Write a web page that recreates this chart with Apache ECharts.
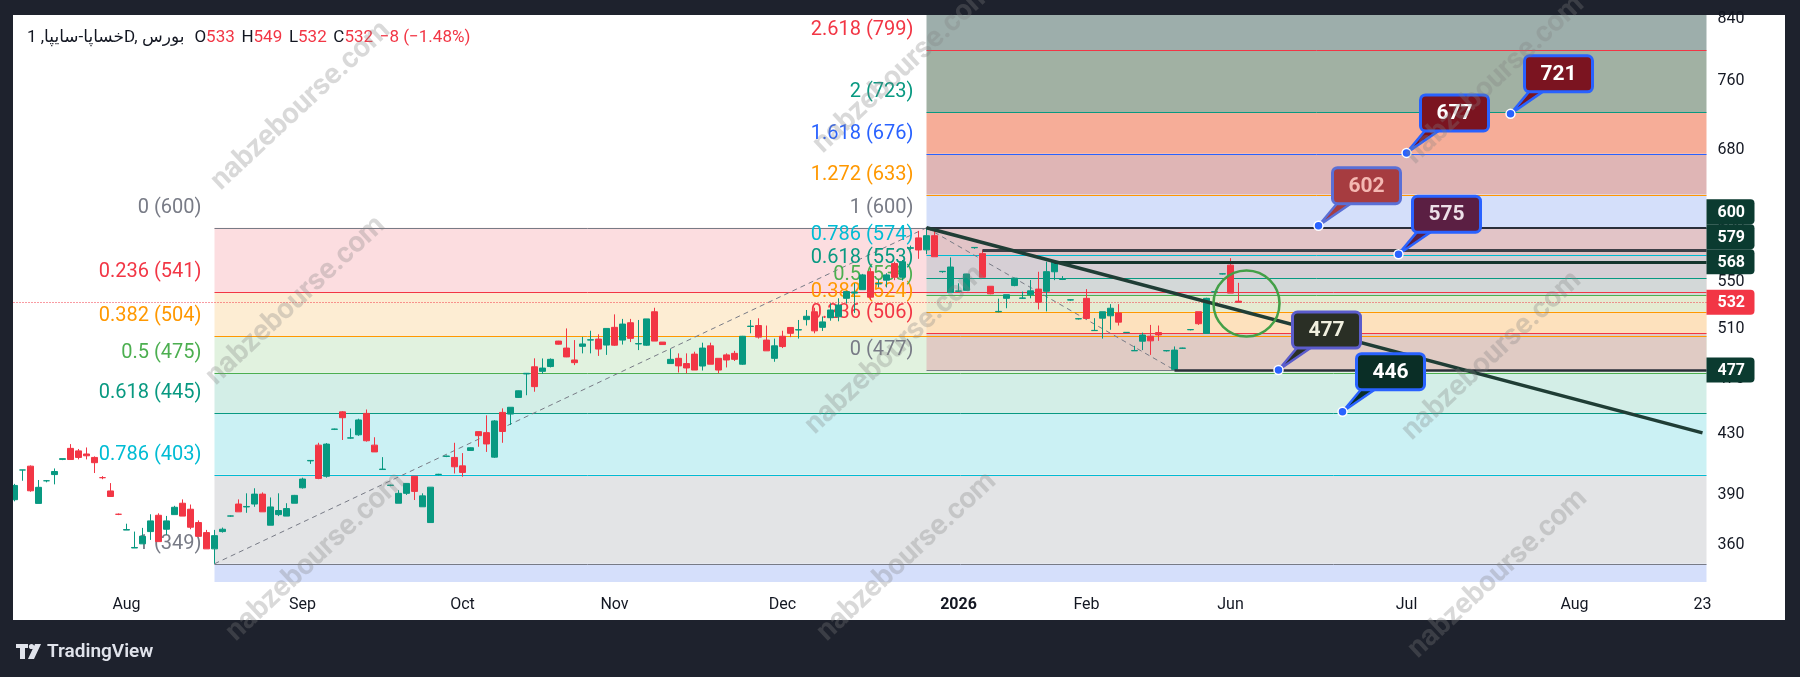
<!DOCTYPE html>
<html>
<head>
<meta charset="utf-8">
<script src="https://cdn.jsdelivr.net/npm/echarts@6/dist/echarts.min.js"></script>
<style>
  html, body { margin: 0; padding: 0; background: #1e222d; }
  #chart { width: 1800px; height: 677px; }
</style>
</head>
<body>
<div id="chart"></div>
<script>
// ---- data ----
const tickerTitle = 'خساپا-سایپا, 1D, بورس';
const barCount = 212;
const axisMonths = ['Aug', 'Sep', 'Oct', 'Nov', 'Dec', '2026', 'Feb', 'Jun', 'Jul', 'Aug', '23'];
const axisMonthBars = [14, 36, 56, 75, 96, 118, 134, 152, 174, 195, 211];
const priceTicks = [840, 760, 680, 600, 550, 510, 470, 430, 390, 360];

const opens = [
  387, 406, 408.5, 384.7, 399, 403, 413, 420.4, 418.7, 416.6,
  414.3, 401, 392.5, 378, 368.5, 358, 360.4, 367.6, 377.4, 369,
  377.8, 384.8, 381.1, 373, 367, 357.5, 367.6, 376.9, 384.3, 382.5,
  384.3, 390.5, 371.4, 377.8, 376.9, 384.8, 394.5, 412, 422.6, 401.9,
  433.5, 445.9, 427.4, 429.7, 444.8, 422.6, 406.3, 396, 384.8, 391,
  401.9, 382.6, 373, 403, 415, 414.3, 408.7, 419, 431.9, 431.2,
  414.5, 445.5, 444.3, 456.4, 474, 479.5, 476, 479.7, 499.8, 494.2,
  484.8, 495.6, 500.6, 501.4, 496.6, 511, 500.6, 514.8, 497.5, 496.5,
  524, 499, 482, 486.1, 482, 489.4, 480.1, 496, 486.1, 488.8,
  490, 481.5, 511.7, 512.5, 500.6, 486.1, 503.7, 510.9, 508.8, 517.4,
  524, 511, 519, 519.8, 535.5, 540, 543, 559, 548, 551.4,
  566.3, 554, 580.5, 590.3, 579, 592.4, 559, 540.6, 541.6, 542.4,
  581, 575.5, 546, 524, 535.5, 546.6, 535.5, 538.6, 543.5, 541.6,
  558.9, 552, 534, 518, 535.5, 508.3, 518.6, 520.6, 523, 506.7,
  492, 499.7, 503.7, 506.7, 492, 477.5, 494, 509, 524, 506,
  541, 556.9, 564.9, 533
];
const highs = [
  397, 406, 409, 399.5, 399.5, 407, 413.5, 423.3, 420, 421,
  415, 402, 397.5, 378.5, 372.3, 367.6, 369.8, 378, 378.6, 377,
  383.2, 387.2, 384, 374.3, 368.6, 368.6, 370, 377.3, 387.2, 391,
  394.2, 391.6, 388.4, 391, 384.8, 390, 401, 412.5, 424.2, 424,
  434, 446.5, 434.1, 441, 447.6, 428, 414.5, 396.5, 393, 397.5,
  402, 391, 395, 403.5, 415.5, 424.2, 417.2, 421, 432, 443.4,
  440, 448.4, 449.2, 461.5, 474.5, 486.1, 486, 486, 500, 510.1,
  500.6, 503.2, 508.2, 505.3, 510.1, 521.8, 518, 518, 517.1, 518,
  527.4, 499, 493.4, 490, 490, 491.3, 498.5, 498.5, 486.1, 490,
  492, 504, 517.1, 518.5, 512.5, 501.8, 508.2, 511, 517.1, 525.5,
  527.4, 520, 531.2, 535.5, 542, 548.6, 557, 562.2, 552, 557.6,
  568, 569.6, 583, 597, 600, 597, 559.5, 572, 548.6, 557,
  581.5, 579, 546, 535.2, 538.6, 553.5, 541.3, 551.5, 558.9, 568,
  568, 555, 534.5, 518.5, 543.5, 518.6, 524, 530.5, 530.5, 507,
  496, 506.7, 513, 512.5, 492.5, 495.5, 494.5, 509.5, 524, 536,
  541.5, 557.5, 571.3, 549
];
const lows = [
  386, 399, 392, 384.7, 398, 396.7, 412.5, 412.9, 413, 413,
  404, 400, 389, 377.5, 368.5, 358, 360.4, 362.7, 361.7, 365.6,
  377.8, 376.9, 369, 364.8, 357.5, 349, 367, 376.5, 379.5, 378.9,
  382.6, 379.5, 371.4, 376.9, 376.9, 384.8, 394, 410, 400, 401,
  433, 426.1, 427, 429, 425, 418, 406, 395.5, 384.8, 390,
  386.8, 382.6, 373, 402.5, 414.5, 403.7, 401.6, 419, 421.5, 418,
  414, 424.2, 436.6, 456, 458, 460.6, 474, 479, 497, 487,
  480.8, 490, 490, 488, 488.8, 496, 497, 499, 492.6, 496,
  499.8, 497, 482, 475.1, 474.5, 477, 476.6, 481.5, 474.5, 479,
  484, 481, 506.1, 501.8, 492, 483.4, 494.2, 503, 501.8, 512.5,
  506.1, 508, 516.5, 516, 531, 523, 543, 534, 545, 545,
  551.4, 551, 579, 570.7, 575, 572.6, 558, 540.6, 541, 542,
  580, 554, 539, 523.5, 527, 546, 535, 535.5, 526, 524.3,
  551.4, 551.5, 533.5, 517.5, 518, 508, 501.8, 509, 512.5, 506.4,
  492, 492.6, 488.8, 500, 491.5, 477, 493.5, 508.5, 513, 506,
  540.5, 556.5, 540, 532
];
const closes = [
  396, 406, 392.6, 394.8, 399, 405, 413.5, 412.9, 414.3, 415.4,
  410.8, 401, 389, 378, 368.8, 358.3, 364.8, 374, 361.7, 374,
  382.3, 376.9, 370.2, 364.8, 357.5, 365.2, 369, 377, 379.5, 382.8,
  390.5, 379.5, 382.5, 380.3, 381.5, 389.7, 400.1, 412.3, 400.5, 423.3,
  433.7, 441.7, 427.6, 440.1, 425.6, 418, 406.6, 396.2, 391, 397.3,
  392.2, 389.4, 394.9, 403.2, 415.2, 408.1, 404.4, 420.8, 429.1, 423.4,
  439.4, 432, 449.2, 461.3, 474.5, 464.4, 478.5, 485.3, 497.3, 487.2,
  482.7, 497.5, 500.9, 493.4, 510.1, 496.5, 513.7, 502, 497.8, 518,
  499.8, 497, 485.3, 480.2, 478.6, 477, 494.2, 481.5, 477, 484.8,
  485.3, 503.7, 512, 503, 492, 496, 495.4, 506.1, 509.1, 520.2,
  508.1, 515.5, 525.5, 529.7, 541.3, 541, 556.1, 536.5, 548.5, 556.1,
  554, 568, 581, 578.9, 592.4, 572.6, 559.3, 563.2, 541.9, 556.9,
  581.3, 554, 539.4, 524.3, 538.6, 553.2, 535.8, 542, 532.1, 559,
  568, 552.3, 534.2, 518.2, 518.4, 508.5, 524, 527, 515.3, 506.9,
  492.3, 504.7, 500, 504.8, 492.2, 492.6, 494.2, 509.2, 514, 535.5,
  541.2, 557.1, 540, 532
];

// fib retracement drawn on the rally (349 -> 600)
const fibOneBar = 25;
const fibOneLevels = ['0', '0.236', '0.382', '0.5', '0.618', '0.786', '1'];
const fibOnePrices = [600, 541, 504, 475, 445, 403, 349];
const fibOneNext = 194;            // 1.618, runs off the bottom
const fibOneSwing = [[25, 349], [114, 600]];

// fib drawn on the pullback (600 -> 477)
const fibTwoBar = 114;
const fibTwoLevels = ['0', '0.236', '0.382', '0.5', '0.618', '0.786', '1', '1.272', '1.618', '2', '2.618'];
const fibTwoPrices = [477, 506, 524, 538, 553, 574, 600, 633, 676, 723, 799];
const fibTwoNext = 922;            // 3.618, runs off the top
const fibTwoSwing = [[114, 600], [145, 477]];

const trendLine = [[114, 600], [211, 431]];
const rayBars = [114, 121, 130, 145];
const rayPrices = [600, 579, 568, 477];
const circleAt = [[154, 531]];
const calloutBars = [163, 173, 174, 187, 158, 166];
const calloutPrices = [602, 575, 677, 721, 477, 446];
const tagPrices = [600, 579, 568, 532, 477];

// ---- styles ----
const font = 'Roboto, "DejaVu Sans", sans-serif';
const upColor = '#089981', downColor = '#f23645';
const fibOneLineColors = ['#787b86', '#f23645', '#ff9800', '#4caf50', '#089981', '#00bcd4', '#787b86'];
const fibOneFills = ['#fcdde0', '#fdedd3', '#e1f2df', '#d3eee7', '#cbf1f4', '#e3e4e6', '#d5dffb'];
const fibTwoLineColors = ['#787b86', '#f23645', '#ff9800', '#4caf50', '#089981', '#00bcd4', '#787b86', '#ff9800', '#2962ff', '#089981', '#f23645'];
const fibTwoFills = ['#e0cbc4', '#fde1bd', '#e5ebd1', '#d3d8d8', '#d6cfd5', '#e2c4c7', '#d4dffa', '#dfb5b5', '#f6ad98', '#a1b1a3', '#9daeab'];
const rayColors = ['#2a2e39', '#3d4047', '#15352d', '#2a2e39'];
const rayWidths = [2, 3, 3, 2.5];
const calloutStyles = [
  { fill: '#a63c40', text: '#f4b8b2', border: '#5a6fd6' },
  { fill: '#5b1f43', text: '#eddfe8', border: '#2962ff' },
  { fill: '#7b1420', text: '#ffffff', border: '#2962ff' },
  { fill: '#7b1420', text: '#ffffff', border: '#2962ff' },
  { fill: '#2a2f25', text: '#f1f0df', border: '#5b5ccc' },
  { fill: '#0a2e26', text: '#ffffff', border: '#2962ff' }
];
const tagColors = ['#0b3b30', '#0b3b30', '#0b3b30', '#f23645', '#0b3b30'];

const categories = Array.from({ length: barCount }, (_, i) => String(i));
const candles = opens.map((o, i) => [o, closes[i], lows[i], highs[i]]);

function gridRect(cs) {
  return { x: cs.x, y: cs.y, width: cs.width, height: cs.height };
}

function bandSeries(bar, prices, next, fills, z) {
  return {
    type: 'custom', silent: true, z,
    data: prices.map((p, i) => [bar, p, i + 1 < prices.length ? prices[i + 1] : next]),
    renderItem(params, api) {
      const cs = params.coordSys;
      const a = api.coord([api.value(0), api.value(1)]);
      const b = api.coord([api.value(0), api.value(2)]);
      const shape = echarts.graphic.clipRectByRect({
        x: a[0], y: Math.min(a[1], b[1]),
        width: cs.x + cs.width - a[0], height: Math.abs(b[1] - a[1])
      }, gridRect(cs));
      return shape && { type: 'rect', shape, style: { fill: fills[params.dataIndex] } };
    }
  };
}

function levelSeries(bars, prices, colors, widths, z) {
  return {
    type: 'custom', silent: true, z,
    data: prices.map((p, i) => [bars[i], p]),
    renderItem(params, api) {
      const cs = params.coordSys;
      const p = api.coord([api.value(0), api.value(1)]);
      if (p[1] < cs.y || p[1] > cs.y + cs.height) return;
      const w = widths[params.dataIndex];
      const y = w % 2 ? Math.round(p[1]) + 0.5 : Math.round(p[1]);
      return {
        type: 'line',
        shape: { x1: p[0], y1: y, x2: cs.x + cs.width, y2: y },
        style: { stroke: colors[params.dataIndex], lineWidth: w }
      };
    }
  };
}

function fibLabelSeries(bar, levels, prices, colors, z) {
  return {
    type: 'custom', silent: true, z,
    data: prices.map(p => [bar, p]),
    renderItem(params, api) {
      const p = api.coord([api.value(0), api.value(1)]);
      const i = params.dataIndex;
      return {
        type: 'text', x: p[0] - 13, y: p[1] - 20,
        style: {
          text: levels[i] + ' (' + prices[i] + ')', fill: colors[i],
          font: '20px ' + font, align: 'right', verticalAlign: 'middle'
        }
      };
    }
  };
}

const ones = n => Array.from({ length: n }, () => 1);
const lastIdx = closes.length - 1;
const change = closes[lastIdx] - closes[lastIdx - 1];
const changePct = change / closes[lastIdx - 1] * 100;
const fmtSigned = v => (v < 0 ? '\u2212' : '+') + Math.abs(v);

const chart = echarts.init(document.getElementById('chart'));

const option = {
  animation: false,
  backgroundColor: '#1e222d',
  grid: { left: 10.5, top: 15, width: 1696, height: 567 },
  xAxis: {
    type: 'category', data: categories, boundaryGap: true,
    axisLine: { show: false }, axisTick: { show: false }, splitLine: { show: false },
    axisLabel: {
      interval: idx => axisMonthBars.indexOf(idx) >= 0,
      formatter: (v, idx) => {
        const t = axisMonths[axisMonthBars.indexOf(idx)];
        return /^\d{4}$/.test(t) ? '{b|' + t + '}' : t;
      },
      color: '#131722', fontSize: 16, fontFamily: font, margin: 15,
      rich: { b: { fontWeight: 'bold', fontSize: 16, fontFamily: font, color: '#131722' } }
    }
  },
  yAxis: {
    type: 'log', logBase: 10, min: 338.9, max: 845.6, position: 'right',
    axisLine: { show: false }, axisTick: { show: false },
    axisLabel: { show: false }, splitLine: { show: false }
  },
  series: [
    bandSeries(fibOneBar, fibOnePrices, fibOneNext, fibOneFills, 1),
    bandSeries(fibTwoBar, fibTwoPrices, fibTwoNext, fibTwoFills, 1),
    levelSeries(fibOnePrices.map(() => fibOneBar), fibOnePrices, fibOneLineColors, ones(7), 2),
    levelSeries(fibTwoPrices.map(() => fibTwoBar), fibTwoPrices, fibTwoLineColors, ones(11), 2),
    {
      type: 'line', data: fibOneSwing, symbol: 'none', silent: true, z: 3,
      lineStyle: { color: '#787b86', width: 1, type: [5, 4] }
    },
    {
      type: 'line', data: fibTwoSwing, symbol: 'none', silent: true, z: 3,
      lineStyle: { color: '#787b86', width: 1, type: [5, 4] }
    },
    fibLabelSeries(fibOneBar, fibOneLevels, fibOnePrices, fibOneLineColors, 4),
    fibLabelSeries(fibTwoBar, fibTwoLevels, fibTwoPrices, fibTwoLineColors, 4),
    {
      type: 'candlestick', data: candles, barWidth: 6, z: 5, silent: true,
      itemStyle: { color: upColor, color0: downColor, borderColor: upColor, borderColor0: downColor, borderWidth: 1 }
    },
    levelSeries(rayBars, rayPrices, rayColors, rayWidths, 6),
    {
      // last price, dotted across the pane
      type: 'custom', silent: true, z: 6,
      data: [[0, closes[lastIdx]]],
      renderItem(params, api) {
        const cs = params.coordSys;
        const y = Math.round(api.coord([0, api.value(1)])[1]) + 0.5;
        return {
          type: 'line', shape: { x1: cs.x, y1: y, x2: cs.x + cs.width, y2: y },
          style: { stroke: '#f23645', lineWidth: 1, lineDash: [1, 2] }
        };
      }
    },
    {
      type: 'line', data: trendLine, symbol: 'none', silent: true, z: 7,
      lineStyle: { color: '#1f3d35', width: 3.5 }
    },
    {
      type: 'custom', silent: true, z: 8, data: circleAt,
      renderItem(params, api) {
        const c = api.coord([api.value(0), api.value(1)]);
        return {
          type: 'circle', shape: { cx: c[0], cy: c[1], r: 33 },
          style: { fill: 'none', stroke: '#43a047', lineWidth: 2.5 }
        };
      }
    },
    {
      type: 'custom', silent: true, z: 9, clip: false,
      data: calloutPrices.map((p, i) => [calloutBars[i], p]),
      renderItem(params, api) {
        const i = params.dataIndex;
        const st = calloutStyles[i];
        const a = api.coord([api.value(0), api.value(1)]);
        const bw = 68, bh = 36, bx = a[0] + 14, by = a[1] - 58;
        return {
          type: 'group', children: [
            {
              type: 'polygon', shape: { points: [[a[0], a[1]], [bx + 6, by + bh - 2], [bx + 21, by + bh - 2]] },
              style: { fill: st.fill, stroke: st.border, lineWidth: 2.5, lineJoin: 'round' }
            },
            {
              type: 'rect', shape: { x: bx, y: by, width: bw, height: bh, r: 5 },
              style: { fill: st.fill, stroke: st.border, lineWidth: 3 }
            },
            {
              type: 'text', x: bx + bw / 2, y: by + bh / 2 + 1,
              style: { text: String(calloutPrices[i]), fill: st.text, font: 'bold 21px ' + font, align: 'center', verticalAlign: 'middle' }
            },
            {
              type: 'circle', shape: { cx: a[0], cy: a[1], r: 4.5 },
              style: { fill: '#2962ff', stroke: '#ffffff', lineWidth: 1.5 }
            }
          ]
        };
      }
    },
    {
      // price scale labels
      type: 'custom', silent: true, z: 10, clip: false,
      data: priceTicks.map(p => [0, p]),
      renderItem(params, api) {
        const cs = params.coordSys;
        const y = api.coord([0, api.value(1)])[1];
        return {
          type: 'text', x: cs.x + cs.width + 11, y,
          style: { text: String(api.value(1)), fill: '#131722', font: '16px ' + font, align: 'left', verticalAlign: 'middle' }
        };
      }
    },
    {
      // price scale tags, stacked so they do not overlap
      type: 'custom', silent: true, z: 11, clip: false,
      data: [[0, closes[lastIdx]]],
      renderItem(params, api) {
        const cs = params.coordSys;
        const x = cs.x + cs.width, tagH = 25;
        const order = tagPrices.map((p, i) => i).sort((a, b) => tagPrices[a] - tagPrices[b]);
        const children = [];
        let prevY = Infinity;
        order.forEach(i => {
          let y = api.coord([0, tagPrices[i]])[1];
          y = Math.min(y, prevY - tagH);
          prevY = y;
          children.push({
            type: 'rect', shape: { x: x, y: y - tagH / 2, width: 48, height: tagH, r: [0, 4, 4, 0] },
            style: { fill: tagColors[i] }
          }, {
            type: 'text', x: x + 11, y: y + 1,
            style: { text: String(tagPrices[i]), fill: '#ffffff', font: 'bold 16px ' + font, verticalAlign: 'middle' }
          });
        });
        return { type: 'group', children };
      }
    }
  ],
  graphic: [
    { type: 'rect', z: -10, silent: true, shape: { x: 13, y: 15, width: 1772, height: 605 }, style: { fill: '#ffffff' } },
    { type: 'rect', z: 100, silent: true, shape: { x: 0, y: 15, width: 13, height: 605 }, style: { fill: '#1e222d' } },
    {
      type: 'text', z: 60, x: 27, y: 38, silent: true,
      style: {
        text: '{n|' + tickerTitle + '}   {n|O}{r|' + opens[lastIdx] + '}  {n|H}{r|' + highs[lastIdx] +
          '}  {n|L}{r|' + lows[lastIdx] + '}  {n|C}{r|' + closes[lastIdx] + '}  {r|' + fmtSigned(change) +
          ' (' + fmtSigned(+changePct.toFixed(2)) + '%)}',
        verticalAlign: 'middle',
        rich: {
          n: { fill: '#131722', fontSize: 17, fontFamily: font },
          r: { fill: '#f23645', fontSize: 17, fontFamily: font }
        }
      }
    },
    // TradingView footer
    { type: 'rect', z: 60, silent: true, shape: { x: 16, y: 644, width: 12, height: 4 }, style: { fill: '#e0e3eb' } },
    { type: 'rect', z: 60, silent: true, shape: { x: 20, y: 644, width: 5, height: 15 }, style: { fill: '#e0e3eb' } },
    { type: 'circle', z: 60, silent: true, shape: { cx: 31.5, cy: 646.5, r: 2.6 }, style: { fill: '#e0e3eb' } },
    { type: 'polygon', z: 60, silent: true, shape: { points: [[35, 644], [41, 644], [34, 659], [28, 659]] }, style: { fill: '#e0e3eb' } },
    {
      type: 'text', z: 60, x: 47, y: 652, silent: true,
      style: { text: 'TradingView', fill: '#e0e3eb', font: '600 19px ' + font, verticalAlign: 'middle' }
    }
  ].concat([
    [301, 106], [903, 69], [1495, 80],
    [296, 301], [895, 350], [1492, 356],
    [316, 557], [907, 557], [1498, 574]
  ].map(c => ({
    type: 'text', z: 90, silent: true, x: c[0], y: c[1], rotation: 0.75,
    style: {
      text: 'nabzebourse.com', fill: 'rgba(130,130,130,0.3)',
      font: 'bold 29px ' + font, align: 'center', verticalAlign: 'middle'
    }
  })))
};

chart.setOption(option);
</script>
</body>
</html>
